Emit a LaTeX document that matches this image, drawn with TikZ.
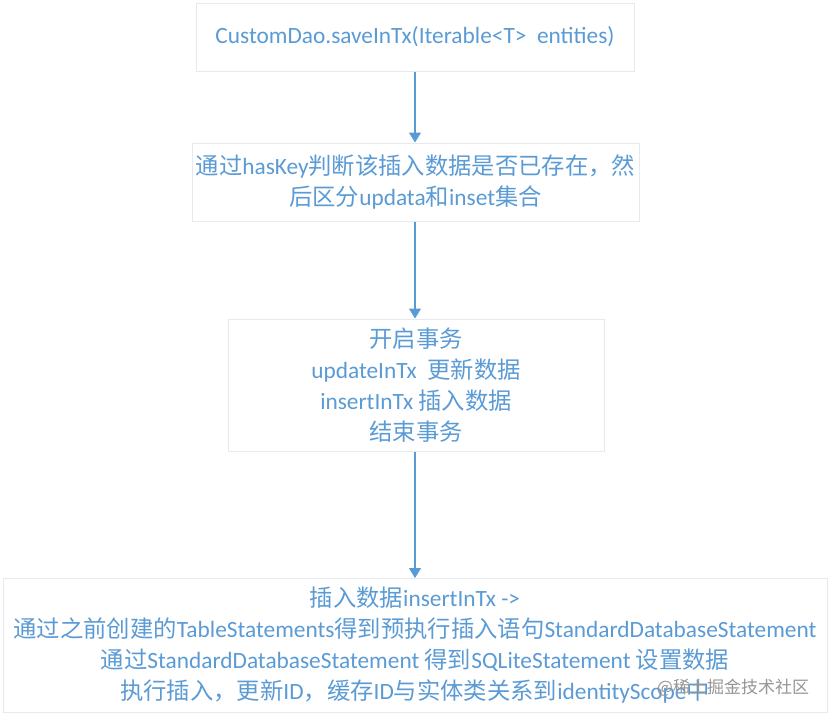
\documentclass[tikz,border=0pt]{standalone}
\usepackage{fontspec}
\setmainfont{Carlito}
\newfontfamily\cjk{Noto Sans CJK SC}
\newcommand\zh[1]{{\cjk #1}}
\usetikzlibrary{arrows.meta}
\definecolor{txtblue}{RGB}{91,155,213}
\definecolor{boxline}{RGB}{228,234,240}
\definecolor{wmgray}{RGB}{150,150,150}
\tikzset{
  flowbox/.style={draw=boxline, line width=0.75pt, fill=white, text=txtblue,
    align=center, inner sep=0pt, font=\fontsize{17.5}{23.25}\selectfont},
  flowarrow/.style={draw=txtblue, line width=1.1pt,
    -{Triangle[width=9pt,length=7.5pt]}}
}
\begin{document}
\begin{tikzpicture}[x=0.75pt,y=-0.75pt]
\useasboundingbox (0,0) rectangle (831,718);
\node[flowbox, minimum width=438*0.75pt, minimum height=68*0.75pt] (b1) at (415,37)
  {CustomDao.saveInTx(Iterable<T>\ \ entities)};
\node[flowbox, minimum width=447*0.75pt, minimum height=78*0.75pt] (b2) at (415.5,182)
  {\zh{通过}hasKey\zh{判断该插入数据是否已存在，然}\\\zh{后区分}updata\zh{和}inset\zh{集合}};
\node[flowbox, minimum width=376*0.75pt, minimum height=132*0.75pt] (b3) at (416,385)
  {\zh{开启事务}\\updateInTx\ \ \zh{更新数据}\\insertInTx \zh{插入数据}\\\zh{结束事务}};
\node[flowbox, minimum width=824*0.75pt, minimum height=134*0.75pt] (b4) at (415,645.5)
  {\zh{插入数据}insertInTx ->\\
   \zh{通过之前创建的}TableStatements\zh{得到预执行插入语句}StandardDatabaseStatement\\
   \zh{通过}StandardDatabaseStatement \zh{得到}SQLiteStatement \zh{设置数据}\\
   \zh{执行插入，更新}ID\zh{，缓存}ID\zh{与实体类关系到}identityScope\zh{中}};
\node[text=wmgray, inner sep=0pt, font=\cjk\fontsize{12.75}{14}\selectfont] (wm) at (733,688) {@稀土掘金技术社区};
\draw[flowarrow] (b1.south) -- (b1.south |- b2.north);
\draw[flowarrow] (b1.south |- b2.south) -- (b1.south |- b3.north);
\draw[flowarrow] (b1.south |- b3.south) -- (b1.south |- b4.north);
\end{tikzpicture}
\end{document}
